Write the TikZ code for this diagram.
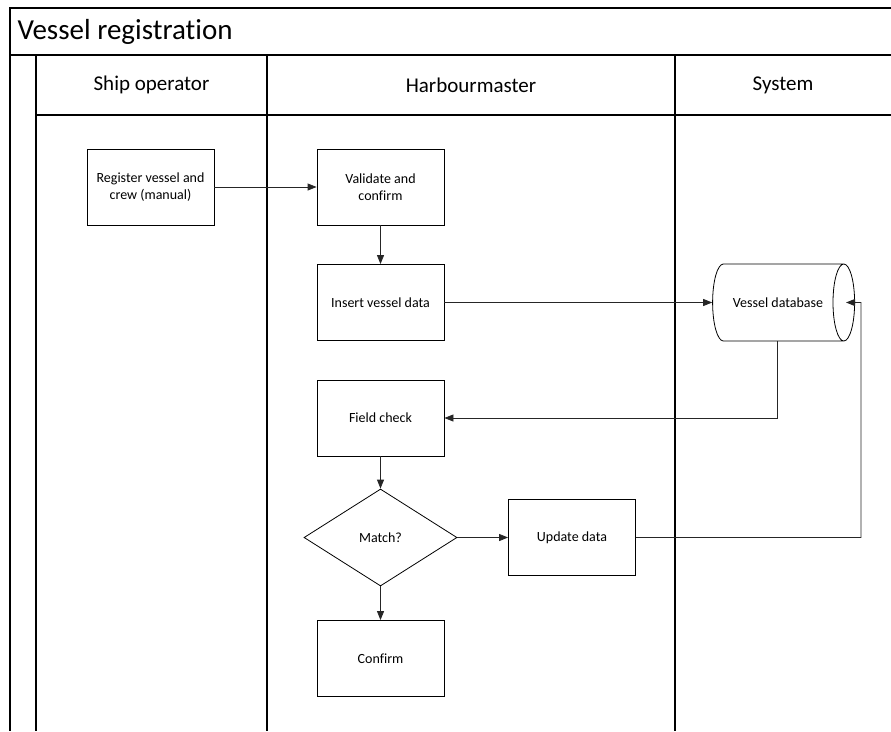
\documentclass[tikz,border=0pt]{standalone}
\usepackage{fontspec}
\setmainfont{Carlito}[Ligatures=NoCommon]
\usepackage{tikz}
\usetikzlibrary{shapes.geometric,arrows.meta}
\tikzset{
  lane/.style={draw=black, line width=1.1pt},
  procbox/.style={draw, line width=0.8pt, minimum width=127pt, minimum height=76pt,
    align=center, font=\fontsize{14}{16.5}\selectfont, inner sep=2pt},
  decision/.style={draw, diamond, line width=0.8pt, minimum width=153pt, minimum height=97pt,
    aspect=1.6, inner sep=0pt, font=\fontsize{14}{16.5}\selectfont},
  store/.style={draw, cylinder, line width=0.8pt, minimum width=77pt, minimum height=142pt,
    aspect=2.2, inner sep=0pt, font=\fontsize{14}{16.5}\selectfont},
  flow/.style={draw=black!85, line width=0.8pt, -{Triangle[length=9pt,width=7pt]}},
  lanehead/.style={font=\fontsize{21}{24}\selectfont}
}
\begin{document}
\begin{tikzpicture}[x=1pt,y=-1pt]
\useasboundingbox (0,0) rectangle (891,731);
% pool and lanes
\draw[lane] (891,8) -- (10,8) -- (10,731);
\draw[lane] (10,55) -- (891,55);
\draw[lane] (36,115) -- (891,115);
\draw[lane] (36,55) -- (36,731);
\draw[lane] (267,55) -- (267,731);
\draw[lane] (675,55) -- (675,731);
\node[anchor=west, font=\fontsize{29}{33}\selectfont] (title) at (14,32) {Vessel registration};
\node[lanehead] (shipop) at (151.5,85) {Ship operator};
\node[lanehead] (harbour) at (471,85) {Harbourmaster};
\node[lanehead] (system) at (783,85) {System};
% steps
\node[procbox] (reg) at (150.5,187) {Register vessel and\\crew (manual)};
\node[procbox] (val) at (380.5,187) {Validate and\\confirm};
\node[procbox] (ins) at (380.5,302.5) {Insert vessel data};
\node[store] (db) at (778,302.5) {Vessel database};
\node[procbox] (fld) at (380.5,418) {Field check};
\node[decision] (mat) at (380.5,537.5) {Match?};
\node[procbox] (upd) at (572,537.5) {Update data};
\node[procbox] (conf) at (380.5,658.5) {Confirm};
\coordinate (ret) at (861,302.5);
% connectors
\draw[flow] (reg) -- (val);
\draw[flow] (val) -- (ins);
\draw[flow] (ins) -- (db);
\draw[flow] ([xshift=-1pt]db.south) |- (fld);
\draw[flow] (fld) -- (mat);
\draw[flow] (mat) -- (upd);
\draw[flow] (upd.east) -| (ret) -- ([xshift=-9pt]db.east);
\draw[flow] (mat) -- (conf);
\end{tikzpicture}
\end{document}
